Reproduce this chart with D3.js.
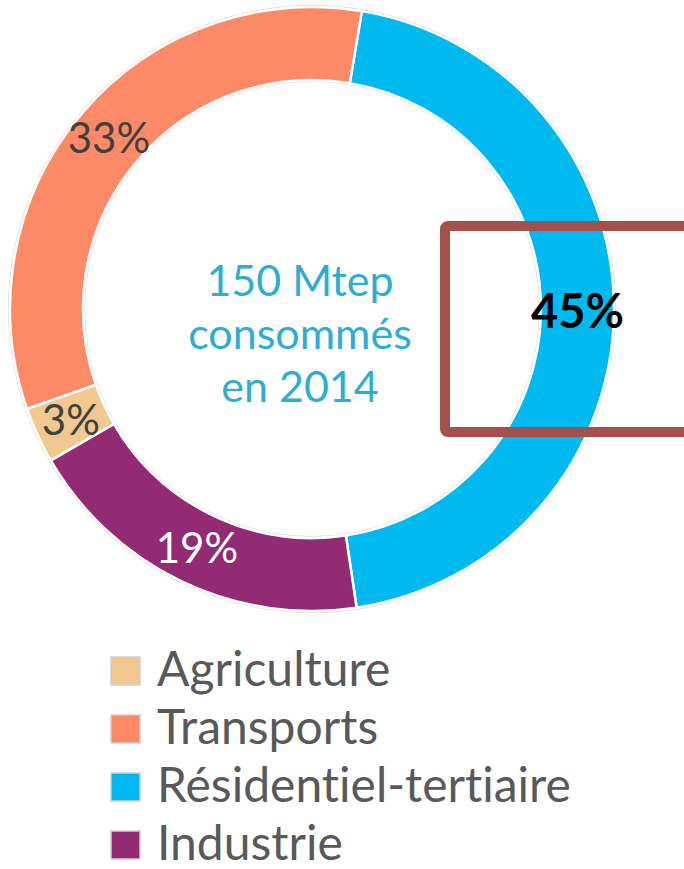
<!DOCTYPE html>
<html>
<head>
<meta charset="utf-8">
<script src="https://cdn.jsdelivr.net/npm/d3@7"></script>
<style>
  body { margin: 0; background: #fff; }
  svg { display: block; }
  text { font-family: Lato, "Open Sans", sans-serif; font-variant-ligatures: none; }
</style>
</head>
<body>
<div id="chart"></div>
<script>
(() => {

  // pie order (clockwise from the top)
  let sectors = ["Résidentiel-tertiaire", "Industrie", "Agriculture", "Transports"]
  let shares = [45, 19, 3, 33]
  let labels = ["45%", "19%", "3%", "33%"]

  // legend order
  let legend_items = ["Agriculture", "Transports", "Résidentiel-tertiaire", "Industrie"]

  let center_lines = ["150 Mtep", "consommés", "en 2014"]

  let colors = {
    "Agriculture": "#f1c88f",
    "Transports": "#fd8a67",
    "Résidentiel-tertiaire": "#00b9ef",
    "Industrie": "#922b74"
  }

  let width = 684
  let height = 869
  let cx = 312
  let cy = 309
  let outer = 302
  let inner = 229

  let svg = d3.select("#chart")
  .append("svg")
  .attr("width", width)
  .attr("height", height)

  let data = sectors.map((s, i) => ({sector: s, value: shares[i], label: labels[i]}))

  let start = 9.5 * Math.PI / 180
  let pie = d3.pie()
  .value(d => d.value)
  .sort(null)
  .startAngle(start)
  .endAngle(start + 2 * Math.PI)

  let arc = d3.arc()
  .innerRadius(inner)
  .outerRadius(outer)

  let g = svg.append("g")
  .attr("transform", "translate(" + cx + "," + cy + ")")

  // faint outline of the ring
  g.append("circle").attr("r", outer + 1.5).attr("fill", "none").attr("stroke", "#dcdcdc").attr("stroke-width", 1)
  g.append("circle").attr("r", inner - 1.5).attr("fill", "none").attr("stroke", "#e2e2e2").attr("stroke-width", 1)

  let arcs = pie(data)

  g.selectAll(".slice")
  .data(arcs)
  .enter()
  .append("path")
  .attr("class", "slice")
  .attr("d", arc)
  .attr("fill", d => colors[d.data.sector])
  .attr("stroke", "#fff")
  .attr("stroke-width", 2.5)

  let label_style = {
    "Résidentiel-tertiaire": {fill: "#000", weight: "bold", size: 47},
    "Industrie": {fill: "#fff", weight: "normal", size: 42},
    "Agriculture": {fill: "#404040", weight: "normal", size: 42},
    "Transports": {fill: "#404040", weight: "normal", size: 42}
  }

  g.selectAll(".slice_label")
  .data(arcs)
  .enter()
  .append("text")
  .attr("class", "slice_label")
  .attr("transform", d => "translate(" + arc.centroid(d) + ")")
  .attr("dy", "0.36em")
  .style("text-anchor", "middle")
  .style("font-size", d => label_style[d.data.sector].size + "px")
  .style("font-weight", d => label_style[d.data.sector].weight)
  .style("fill", d => label_style[d.data.sector].fill)
  .text(d => d.data.label)

  // center text
  svg.selectAll(".center_line")
  .data(center_lines)
  .enter()
  .append("text")
  .attr("class", "center_line")
  .attr("x", 300)
  .attr("y", (d, i) => 296 + i * 53)
  .style("text-anchor", "middle")
  .style("font-size", "43px")
  .style("fill", "#2eadd3")
  .text(d => d)

  // highlight box
  svg.append("rect")
  .attr("x", 445)
  .attr("y", 226)
  .attr("width", 250)
  .attr("height", 206)
  .attr("rx", 3)
  .attr("fill", "none")
  .attr("stroke", "#a4514e")
  .attr("stroke-width", 10)

  // legend
  let legend = svg.selectAll(".legend")
  .data(legend_items)
  .enter()
  .append("g")
  .attr("class", "legend")
  .attr("transform", (d, i) => "translate(111," + (671 + i * 58) + ")")

  legend.append("rect")
  .attr("x", 0)
  .attr("y", -14)
  .attr("width", 29)
  .attr("height", 28)
  .attr("fill", d => colors[d])
  .attr("stroke", "#d0d0d0")
  .attr("stroke-width", 1.5)

  legend.append("text")
  .attr("x", 46)
  .attr("y", 15)
  .style("font-size", "48px")
  .style("fill", "#595959")
  .text(d => d)

})()
</script>
</body>
</html>
